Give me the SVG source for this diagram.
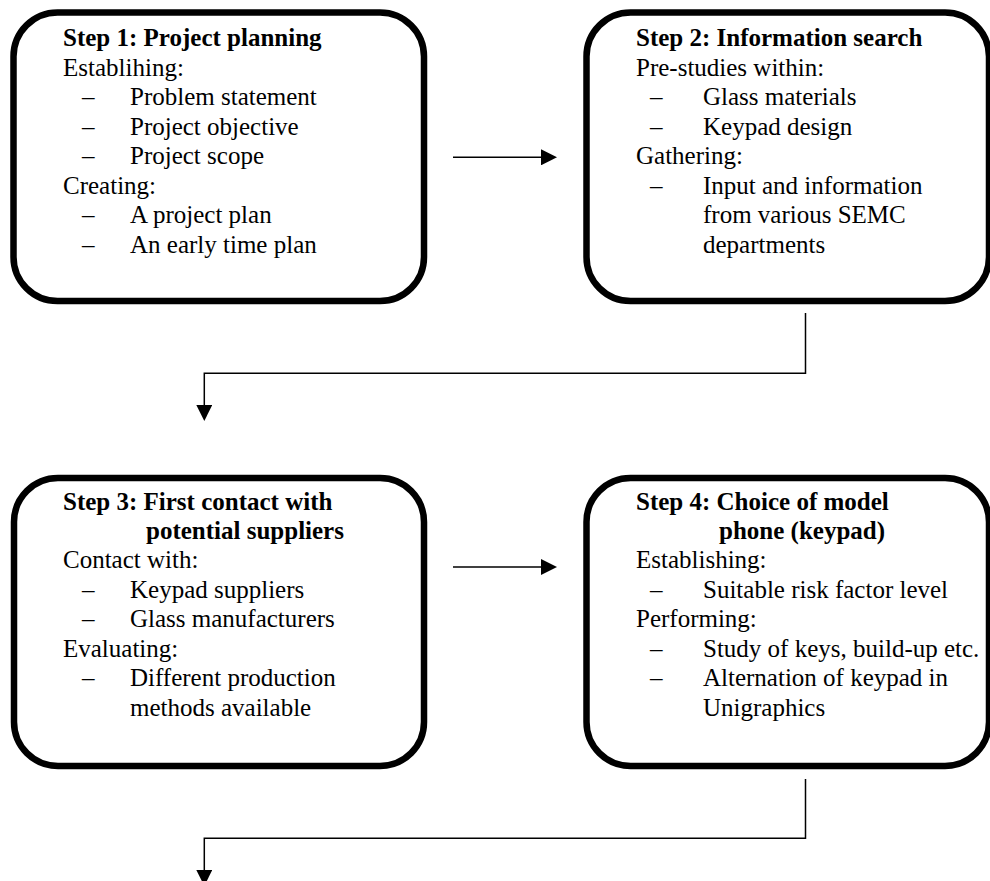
<svg xmlns="http://www.w3.org/2000/svg" width="990" height="881" viewBox="0 0 990 881">
<defs>
<style>
.box{fill:#fff;stroke:#000;stroke-width:6.5}
text{font-family:"Liberation Serif","Times New Roman",serif;font-size:25px;fill:#000}
.b{font-weight:bold}
.conn{fill:none;stroke:#000;stroke-width:1.5}
</style>
<marker id="ah" viewBox="0 0 16 16" markerWidth="16" markerHeight="16" refX="0" refY="8" orient="auto" markerUnits="userSpaceOnUse">
<path d="M0,0 L16,8 L0,16 z" fill="#000"/>
</marker>
</defs>
<rect width="990" height="881" fill="#fff"/>

<g id="step1">
<rect class="box" x="13.5" y="12.5" width="410.5" height="288.5" rx="44" ry="44"/>
<text class="b" x="63" y="46">Step 1: Project planning</text>
<text x="63" y="75.5">Establihing:</text>
<text x="82" y="105">–</text><text x="130" y="105">Problem statement</text>
<text x="82" y="134.5">–</text><text x="130" y="134.5">Project objective</text>
<text x="82" y="164">–</text><text x="130" y="164">Project scope</text>
<text x="63" y="193.5">Creating:</text>
<text x="82" y="223">–</text><text x="130" y="223">A project plan</text>
<text x="82" y="252.5">–</text><text x="130" y="252.5">An early time plan</text>
</g>

<g id="step2">
<rect class="box" x="586.5" y="12.5" width="402.5" height="288.5" rx="44" ry="44"/>
<text class="b" x="636" y="46">Step 2: Information search</text>
<text x="636" y="75.5">Pre-studies within:</text>
<text x="650" y="105">–</text><text x="703" y="105">Glass materials</text>
<text x="650" y="134.5">–</text><text x="703" y="134.5">Keypad design</text>
<text x="636" y="164">Gathering:</text>
<text x="650" y="193.5">–</text><text x="703" y="193.5">Input and information</text>
<text x="703" y="223">from various SEMC</text>
<text x="703" y="252.5">departments</text>
</g>

<g id="step3">
<rect class="box" x="14" y="478" width="410" height="288" rx="44" ry="44"/>
<text class="b" x="63" y="510">Step 3: First contact with</text>
<text class="b" x="146" y="538.5">potential suppliers</text>
<text x="63" y="568">Contact with:</text>
<text x="82" y="597.5">–</text><text x="130" y="597.5">Keypad suppliers</text>
<text x="82" y="627">–</text><text x="130" y="627">Glass manufacturers</text>
<text x="63" y="656.5">Evaluating:</text>
<text x="82" y="686">–</text><text x="130" y="686">Different production</text>
<text x="130" y="715.5">methods available</text>
</g>

<g id="step4">
<rect class="box" x="586.5" y="478" width="402.5" height="288" rx="44" ry="44"/>
<text class="b" x="636" y="510">Step 4: Choice of model</text>
<text class="b" x="719" y="538.5">phone (keypad)</text>
<text x="636" y="568">Establishing:</text>
<text x="650" y="597.5">–</text><text x="703" y="597.5">Suitable risk factor level</text>
<text x="636" y="627">Performing:</text>
<text x="650" y="656.5">–</text><text x="703" y="656.5">Study of keys, build-up etc.</text>
<text x="650" y="686">–</text><text x="703" y="686">Alternation of keypad in</text>
<text x="703" y="715.5">Unigraphics</text>
</g>

<g id="connectors">
<path class="conn" d="M453,157.3 H541" marker-end="url(#ah)"/>
<path class="conn" d="M805.5,313 V373.3 H204.3 V405" marker-end="url(#ah)"/>
<path class="conn" d="M453,567 H541" marker-end="url(#ah)"/>
<path class="conn" d="M805.5,779 V838.3 H204.3 V870" marker-end="url(#ah)"/>
</g>
</svg>
